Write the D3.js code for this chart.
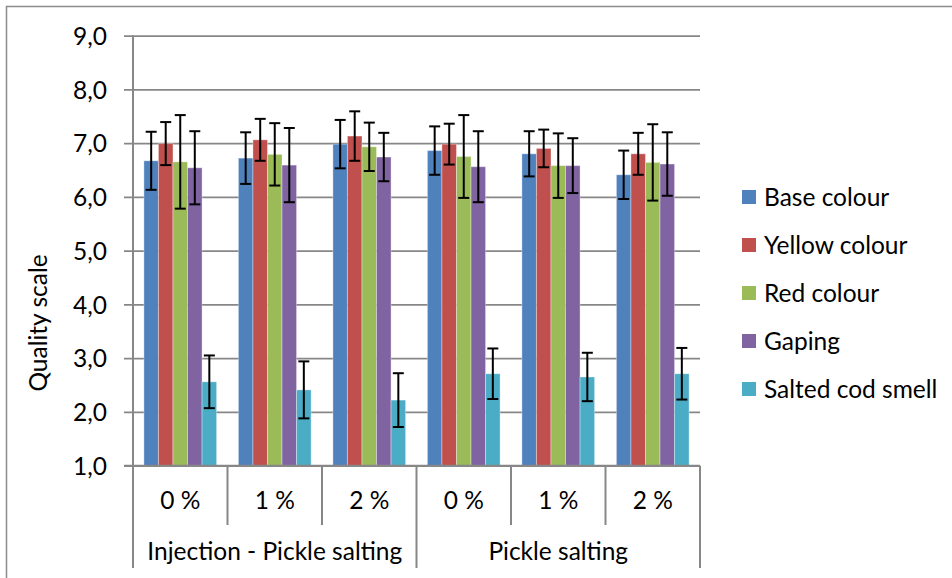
<!DOCTYPE html>
<html>
<head>
<meta charset="utf-8">
<script src="https://cdn.jsdelivr.net/npm/d3@7"></script>
<style>
  html, body { margin: 0; padding: 0; background: #fff; }
  svg text { font-family: Lato, "Open Sans", sans-serif; fill: #000; }
</style>
</head>
<body>
<svg id="chart" width="952" height="578"></svg>
<script>
// ---- data ----
const categories = ["0 %", "1 %", "2 %", "0 %", "1 %", "2 %"];
const groups = ["Injection - Pickle salting", "Pickle salting"];
const seriesNames = ["Base colour", "Yellow colour", "Red colour", "Gaping", "Salted cod smell"];
const seriesColors = ["#4F81BD", "#C0504D", "#9BBB59", "#8064A2", "#4BACC6"];

const baseColour   = [6.67, 6.72, 6.98, 6.86, 6.80, 6.41];
const yellowColour = [6.99, 7.06, 7.13, 6.98, 6.90, 6.80];
const redColour    = [6.65, 6.79, 6.93, 6.75, 6.58, 6.64];
const gaping       = [6.54, 6.59, 6.74, 6.56, 6.58, 6.61];
const saltedSmell  = [2.56, 2.41, 2.22, 2.71, 2.65, 2.71];

const baseErr   = [0.54, 0.48, 0.45, 0.45, 0.42, 0.45];
const yellowErr = [0.40, 0.39, 0.46, 0.38, 0.35, 0.39];
const redErr    = [0.87, 0.58, 0.45, 0.77, 0.60, 0.71];
const gapingErr = [0.68, 0.69, 0.45, 0.66, 0.51, 0.59];
const smellErr  = [0.49, 0.53, 0.50, 0.47, 0.45, 0.48];

const yTicks = [1, 2, 3, 4, 5, 6, 7, 8, 9];

const seriesValues = [baseColour, yellowColour, redColour, gaping, saltedSmell];
const seriesErrors = [baseErr, yellowErr, redErr, gapingErr, smellErr];

// ---- layout ----
(function draw() {
const svg = d3.select("#chart");
const pLeft = 133, pRight = 700, pTop = 35.5, pBottom = 465.7;
const gridColor = "#878787";
const fs = "24.5px";

const y = d3.scaleLinear().domain([1, 9]).range([pBottom, pTop]);
const x = d3.scaleBand().domain(d3.range(categories.length)).range([pLeft, pRight]).padding(0);
const bw = x.bandwidth();
const barW = bw / 6.5;
const xs = d3.scaleBand().domain(d3.range(seriesNames.length))
  .range([barW * 0.75, barW * 5.75]).padding(0);

// frame (top & left visible)
svg.append("path")
  .attr("d", "M6.5,578 L6.5,6.5 L952,6.5")
  .attr("fill", "none").attr("stroke", "#8c8c8c").attr("stroke-width", 1.5);

// gridlines + y ticks
const yAxis = d3.axisLeft(y).tickValues(yTicks).tickSize(pRight - pLeft + 9)
  .tickFormat(d => d3.format(".1f")(d).replace(".", ","));
const yg = svg.append("g").attr("transform", `translate(${pRight},0)`).call(yAxis);
yg.select(".domain").remove();
yg.selectAll(".tick line").attr("stroke", gridColor).attr("stroke-width", 1.75);
yg.selectAll(".tick text")
  .attr("x", -(pRight - 107))
  .attr("dy", "0.36em")
  .attr("text-anchor", "end")
  .style("font-size", fs)
  .style("font-family", "Lato, sans-serif")
  .attr("fill", "#000");

// y axis line
svg.append("line").attr("x1", pLeft).attr("x2", pLeft).attr("y1", pTop).attr("y2", 568)
  .attr("stroke", gridColor).attr("stroke-width", 2);

// category dividers
d3.range(categories.length + 1).forEach(i => {
  const xx = pLeft + i * bw;
  const outer = (i % 3 === 0);
  svg.append("line").attr("x1", xx).attr("x2", xx)
    .attr("y1", pBottom).attr("y2", outer ? 568 : 525)
    .attr("stroke", gridColor).attr("stroke-width", 2);
});

// bars
seriesValues.forEach((vals, s) => {
  const g = svg.append("g");
  g.selectAll("rect").data(vals).join("rect")
    .attr("x", (d, i) => x(i) + xs(s))
    .attr("width", xs.bandwidth())
    .attr("y", d => y(d))
    .attr("height", d => y(1) - y(d))
    .attr("fill", seriesColors[s])
    .attr("stroke", "rgba(255,255,255,0.35)")
    .attr("stroke-width", 1);
});

// x axis line on top of bars
svg.append("line").attr("x1", pLeft - 9).attr("x2", pRight).attr("y1", pBottom).attr("y2", pBottom)
  .attr("stroke", gridColor).attr("stroke-width", 2);

// error bars
const capHalf = 5.5;
seriesValues.forEach((vals, s) => {
  const g = svg.append("g").attr("stroke", "#000").attr("stroke-width", 2);
  vals.forEach((v, i) => {
    const cx = x(i) + xs(s) + xs.bandwidth() / 2;
    const e = seriesErrors[s][i];
    const y1 = y(v + e), y2 = y(v - e);
    g.append("line").attr("x1", cx).attr("x2", cx).attr("y1", y1).attr("y2", y2);
    g.append("line").attr("x1", cx - capHalf).attr("x2", cx + capHalf).attr("y1", y1).attr("y2", y1);
    g.append("line").attr("x1", cx - capHalf).attr("x2", cx + capHalf).attr("y1", y2).attr("y2", y2);
  });
});

// category labels
svg.append("g").selectAll("text").data(categories).join("text")
  .attr("x", (d, i) => x(i) + bw / 2)
  .attr("y", 500)
  .attr("dy", "0.36em")
  .attr("text-anchor", "middle")
  .style("font-size", fs)
  .text(d => d);

// group labels
svg.append("g").selectAll("text").data(groups).join("text")
  .attr("x", (d, i) => pLeft + (i * 3 + 1.5) * bw)
  .attr("y", 551)
  .attr("dy", "0.36em")
  .attr("text-anchor", "middle")
  .style("font-size", fs)
  .text(d => d);

// y axis title
svg.append("text")
  .attr("transform", "translate(38,323) rotate(-90)")
  .attr("text-anchor", "middle")
  .attr("dy", "0.36em")
  .style("font-size", fs)
  .text("Quality scale");

// legend
const legend = svg.append("g");
seriesNames.forEach((name, s) => {
  const cy = 197 + s * 48;
  legend.append("rect").attr("x", 742).attr("y", cy - 7).attr("width", 14).attr("height", 14)
    .attr("fill", seriesColors[s]);
  legend.append("text").attr("x", 764).attr("y", cy).attr("dy", "0.36em")
    .style("font-size", fs).text(name);
});
})();
</script>
</body>
</html>
